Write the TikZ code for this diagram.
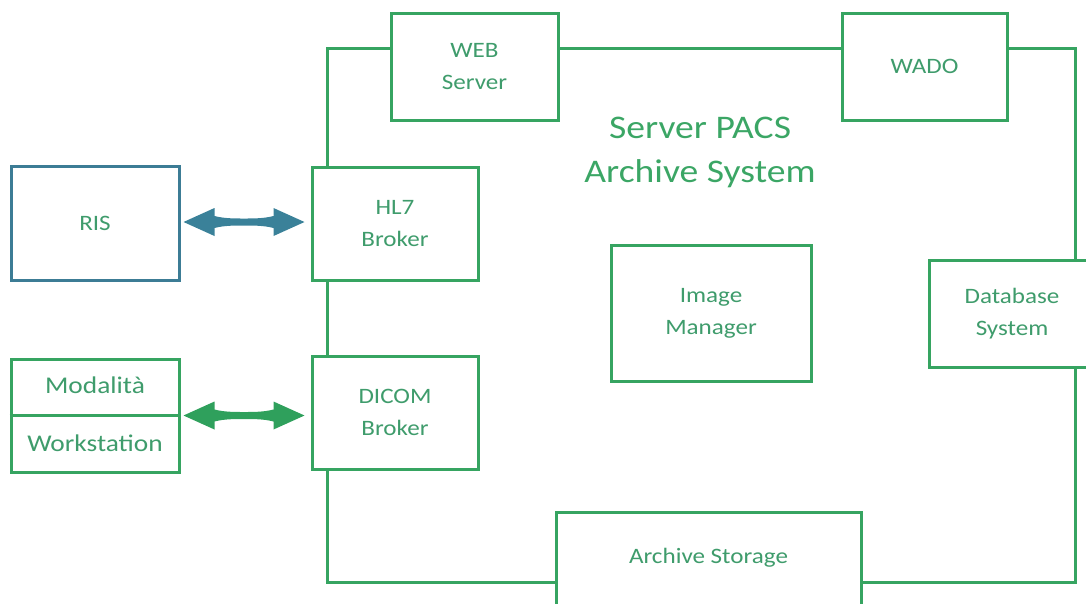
\documentclass[tikz,border=0pt]{standalone}
\usepackage{fontspec}
\setmainfont[FakeStretch=1.14]{Carlito}
\usetikzlibrary{calc}
\definecolor{lgreen}{HTML}{36A461}
\definecolor{tgreen}{HTML}{3F9C6C}
\definecolor{ttitle}{HTML}{3BA665}
\definecolor{lblue}{HTML}{3C7C95}
\definecolor{ablue}{HTML}{3A8199}
\definecolor{agreen}{HTML}{2FA05C}
\begin{document}
\begin{tikzpicture}[x=1pt,y=-1pt,
  box/.style={draw=lgreen, line width=3pt, fill=white, text=tgreen, align=center,
    font=\fontsize{22}{32}\selectfont, inner sep=0pt},
  bluebox/.style={box, draw=lblue},
  lbl/.style={text=tgreen, font=\fontsize{22}{32}\selectfont, inner sep=0pt},
  biglbl/.style={lbl, font=\fontsize{24}{32}\selectfont},
  conn/.style={draw=lgreen, line width=3pt},
]
\useasboundingbox (0,0) rectangle (1086,603);
\clip (0,0) rectangle (1086,603);

\coordinate (tl) at (327,48);
\coordinate (tr) at (1075,48);
\coordinate (bl) at (327,582);
\coordinate (br) at (1075,582);

\node[box, minimum width=167pt, minimum height=107pt] (web) at (474.5,66.5) {WEB\\Server};
\node[box, minimum width=165pt, minimum height=107pt] (wado) at (924.5,66.5) {WADO};
\node[box, minimum width=166pt, minimum height=113pt] (hl7) at (395,223.5) {HL7\\Broker};
\node[box, minimum width=166pt, minimum height=113pt] (dicom) at (395,412.5) {DICOM\\Broker};
\node[bluebox, minimum width=168pt, minimum height=114pt] (ris) at (95,223) {RIS};
\node[box, minimum width=168pt, minimum height=113pt] (mod) at (95,415.5) {};
\node[box, minimum width=200pt, minimum height=136pt] (img) at (711,313) {Image\\Manager};
\node[box, minimum width=166pt, minimum height=107pt] (db) at (1012,313.5) {Database\\System};
\node[box, minimum width=305pt, minimum height=100pt] (arc) at (708.5,562) {};
\node[lbl] (arctext) at (708.5,558) {Archive Storage};

\draw[conn] (mod.west) -- (mod.east);
\node[biglbl] (modtext) at (95,385) {Modalità};
\node[biglbl] (wstext) at (95,443) {Workstation};

\draw[conn] (web.west |- tl) -- (tl) -- (tl |- hl7.north);
\draw[conn] (hl7.south -| tl) -- (dicom.north -| tl);
\draw[conn] (dicom.south -| tl) -- (bl) -- (bl -| arc.west);
\draw[conn] (arc.east |- br) -- (br) -- (br |- db.south);
\draw[conn] (db.north -| tr) -- (tr) -- (tr -| wado.east);
\draw[conn] (wado.west |- tl) -- (web.east |- tl);

\node[text=ttitle, font=\fontsize{33}{44}\selectfont, align=center, inner sep=0pt] (title) at (700,152) {Server PACS\\Archive System};

% double arrows
\fill[ablue] let \p1=($(ris.east)+(3,-1)$), \p2=($(hl7.west)+(-6,-1)$) in
  (\x1,\y1) -- (\x1+31,\y1-14) -- (\x1+31,\y1-6)
  .. controls ({(\x1+\x2)/2-20},\y1-3.5) and ({(\x1+\x2)/2-10},\y1-3.5) .. ({(\x1+\x2)/2},\y1-3.5)
  .. controls ({(\x1+\x2)/2+10},\y1-3.5) and ({(\x1+\x2)/2+20},\y1-3.5) .. (\x2-31,\y1-6)
  -- (\x2-31,\y1-14) -- (\x2,\y1) -- (\x2-31,\y1+14) -- (\x2-31,\y1+6)
  .. controls ({(\x1+\x2)/2+20},\y1+3.5) and ({(\x1+\x2)/2+10},\y1+3.5) .. ({(\x1+\x2)/2},\y1+3.5)
  .. controls ({(\x1+\x2)/2-10},\y1+3.5) and ({(\x1+\x2)/2-20},\y1+3.5) .. (\x1+31,\y1+6)
  -- (\x1+31,\y1+14) -- cycle;
\fill[agreen] let \p1=($(mod.east)+(3,0)$), \p2=($(dicom.west)+(-6,3)$) in
  (\x1,\y1) -- (\x1+31,\y1-14) -- (\x1+31,\y1-6)
  .. controls ({(\x1+\x2)/2-20},\y1-3.5) and ({(\x1+\x2)/2-10},\y1-3.5) .. ({(\x1+\x2)/2},\y1-3.5)
  .. controls ({(\x1+\x2)/2+10},\y1-3.5) and ({(\x1+\x2)/2+20},\y1-3.5) .. (\x2-31,\y1-6)
  -- (\x2-31,\y1-14) -- (\x2,\y1) -- (\x2-31,\y1+14) -- (\x2-31,\y1+6)
  .. controls ({(\x1+\x2)/2+20},\y1+3.5) and ({(\x1+\x2)/2+10},\y1+3.5) .. ({(\x1+\x2)/2},\y1+3.5)
  .. controls ({(\x1+\x2)/2-10},\y1+3.5) and ({(\x1+\x2)/2-20},\y1+3.5) .. (\x1+31,\y1+6)
  -- (\x1+31,\y1+14) -- cycle;
\end{tikzpicture}
\end{document}
